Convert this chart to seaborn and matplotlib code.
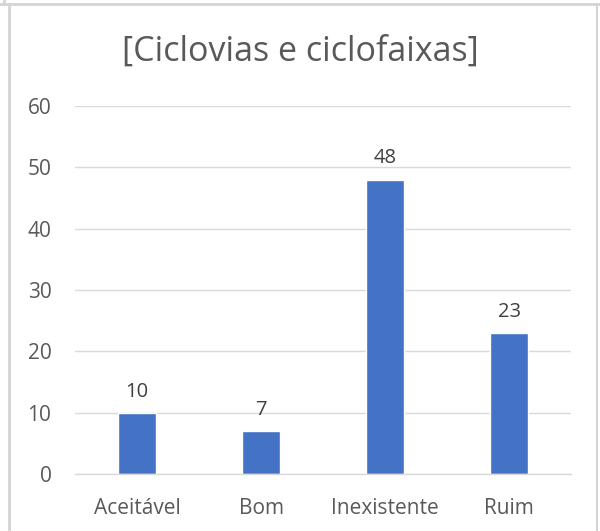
import matplotlib
matplotlib.use("Agg")
import matplotlib.pyplot as plt
import seaborn as sns
import pandas as pd
from matplotlib.lines import Line2D

categories = ["Aceitável", "Bom", "Inexistente", "Ruim"]
values = [10, 7, 48, 23]
yticks = [0, 10, 20, 30, 40, 50, 60]
title = "[Ciclovias e ciclofaixas]"

sns.set_theme(style="white")
plt.rcParams['font.family'] = ['Open Sans', 'DejaVu Sans']

df = pd.DataFrame({"cat": categories, "val": values})

fig = plt.figure(figsize=(6, 5.31), dpi=100)
ax = fig.add_axes([0.125, 0.1073, 0.827, 0.6931])
sns.barplot(data=df, x="cat", y="val", color="#4472C4", width=0.31, ax=ax, saturation=1)

ax.set_ylim(0, 60)
ax.set_xlim(-0.5, 3.5)
ax.set_yticks(yticks)
ax.yaxis.grid(True, color="#D9D9D9", linewidth=1)
ax.set_axisbelow(True)
for s in ["top", "right", "left"]:
    ax.spines[s].set_visible(False)
ax.spines["bottom"].set_color("#D9D9D9")
ax.spines["bottom"].set_linewidth(1)
ax.set_xlabel("")
ax.set_ylabel("")
ax.tick_params(axis="both", length=0, labelsize=15, colors="#595959")
ax.tick_params(axis="y", pad=17)
ax.tick_params(axis="x", pad=17)

for c in ax.containers:
    ax.bar_label(c, labels=[str(v) for v in values], padding=8, fontsize=14.5, color="#404040")

fig.text(0.5, 0.902, title, ha="center", va="center", fontsize=24.5, color="#595959")

# Spreadsheet-like frame lines
fig.add_artist(Line2D([0, 1], [1 - 4/531, 1 - 4/531], transform=fig.transFigure, color="#D4D4D4", lw=2))
fig.add_artist(Line2D([9/600, 9/600], [0, 1 - 4/531], transform=fig.transFigure, color="#D4D4D4", lw=2))
fig.add_artist(Line2D([4/600, 4/600], [1 - 4/531, 1], transform=fig.transFigure, color="#D4D4D4", lw=2))
fig.add_artist(Line2D([597/600, 597/600], [0, 1 - 4/531], transform=fig.transFigure, color="#D4D4D4", lw=1.5))

fig.savefig("out.png", dpi=100)
